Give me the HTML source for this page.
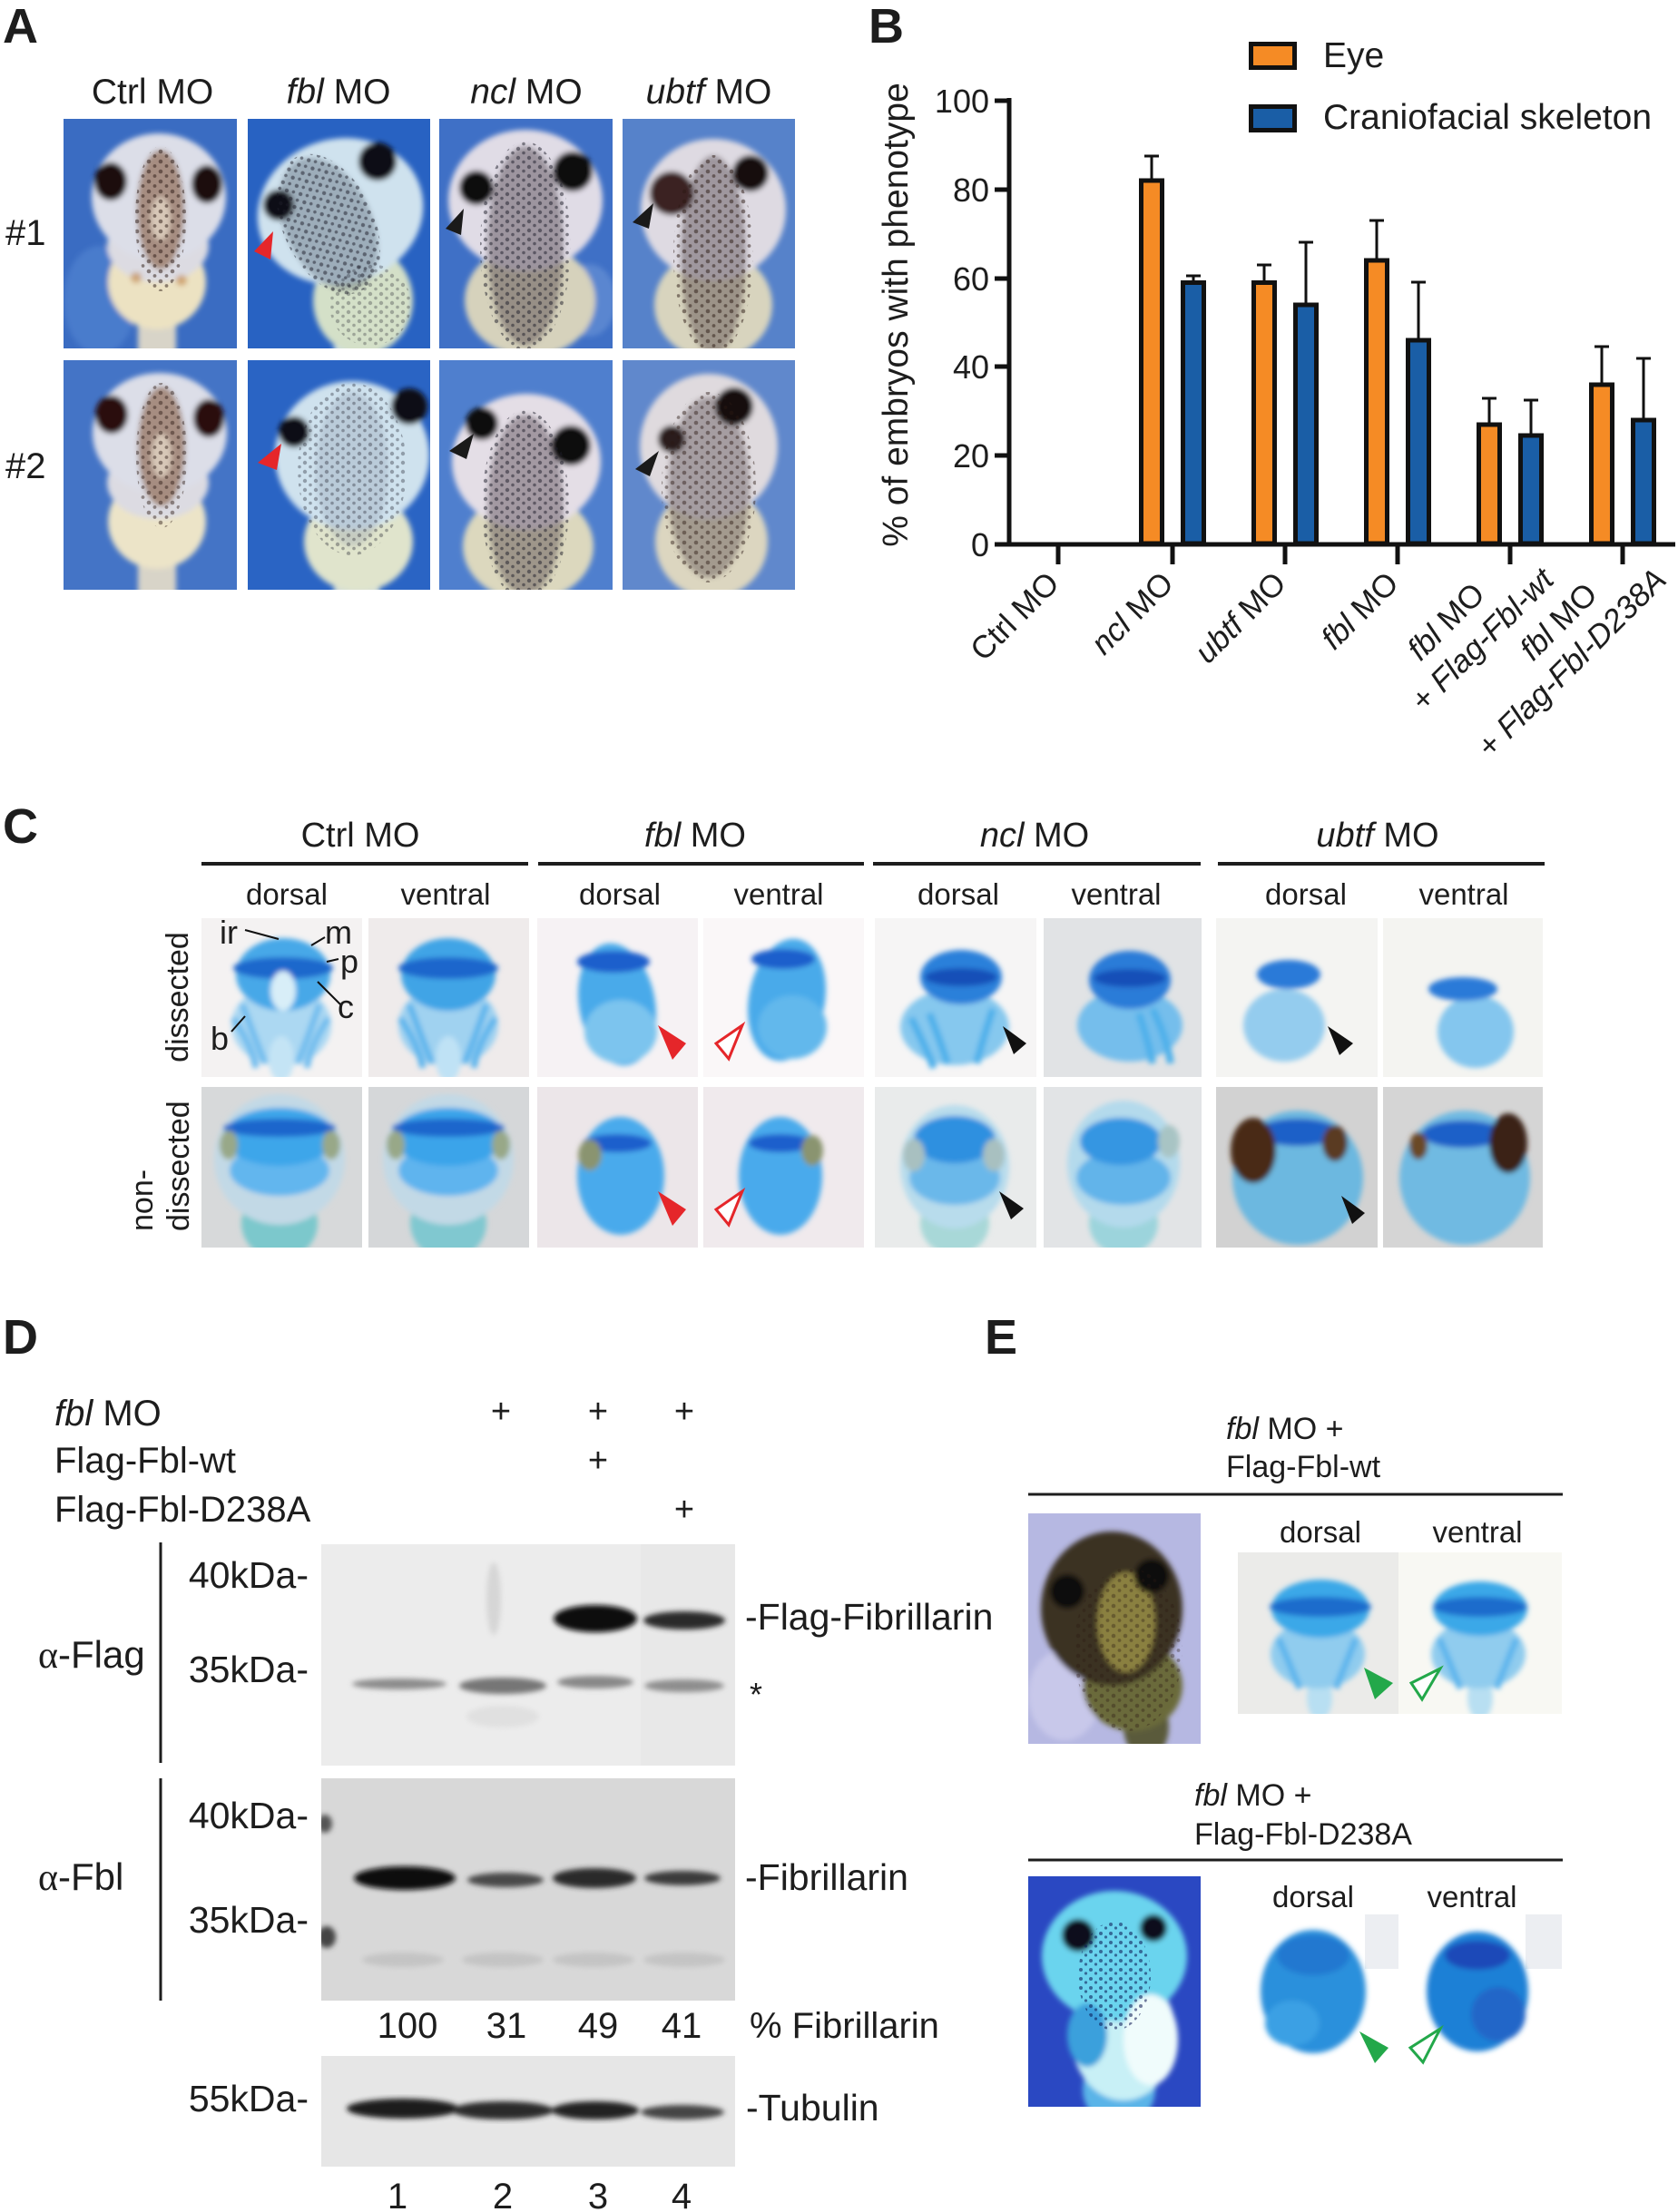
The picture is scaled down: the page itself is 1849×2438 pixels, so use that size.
<!DOCTYPE html>
<html><head><meta charset="utf-8">
<style>
html,body{margin:0;padding:0;background:#fff;}
svg{display:block;}
text{font-family:"Liberation Sans",Arial,sans-serif;fill:#1d1d1d;}
</style></head><body>
<svg width="1849" height="2438" viewBox="0 0 1849 2438" xmlns="http://www.w3.org/2000/svg">
<defs>
<filter id="b2" x="-20%" y="-20%" width="140%" height="140%"><feGaussianBlur stdDeviation="2"/></filter>
<filter id="b3" x="-20%" y="-20%" width="140%" height="140%"><feGaussianBlur stdDeviation="3"/></filter>
<filter id="b5" x="-20%" y="-20%" width="140%" height="140%"><feGaussianBlur stdDeviation="5"/></filter>
<filter id="b10" x="-30%" y="-30%" width="160%" height="160%"><feGaussianBlur stdDeviation="10"/></filter>
<pattern id="spk" width="13" height="11" patternUnits="userSpaceOnUse">
<circle cx="3" cy="3" r="2.3" fill="#2a1812"/><circle cx="9.5" cy="8" r="1.9" fill="#2a1812"/>
</pattern>
<pattern id="spkb" width="12" height="10" patternUnits="userSpaceOnUse">
<circle cx="3" cy="3" r="2.2" fill="#1c1c28"/><circle cx="9" cy="7.5" r="1.8" fill="#1c1c28"/>
</pattern>
<pattern id="spkn" width="11" height="10" patternUnits="userSpaceOnUse">
<circle cx="3" cy="3" r="2" fill="#0a1450"/><circle cx="8.5" cy="7" r="1.6" fill="#0a1450"/>
</pattern>
</defs>

<!-- ============ PANEL A ============ -->
<text x="3" y="47" font-size="54" font-weight="bold">A</text>
<text x="168" y="114" font-size="39" text-anchor="middle">Ctrl MO</text>
<text x="373" y="114" font-size="39" text-anchor="middle"><tspan font-style="italic">fbl</tspan> MO</text>
<text x="580" y="114" font-size="39" text-anchor="middle"><tspan font-style="italic">ncl</tspan> MO</text>
<text x="781" y="114" font-size="39" text-anchor="middle"><tspan font-style="italic">ubtf</tspan> MO</text>
<text x="6" y="270" font-size="40">#1</text>
<text x="6" y="527" font-size="40">#2</text>

<!-- Ctrl #1 -->
<svg x="70" y="131" width="191" height="253">
<rect width="191" height="253" fill="#3a6cc2"/>
<g filter="url(#b3)">
<ellipse cx="40" cy="200" rx="40" ry="60" fill="#4a7ccc"/>
<rect x="82" y="200" width="42" height="60" fill="#d8d4c8"/>
<ellipse cx="103" cy="180" rx="54" ry="52" fill="#ece2c2"/>
<ellipse cx="104" cy="140" rx="56" ry="40" fill="#dcdbe2"/>
<ellipse cx="105" cy="86" rx="74" ry="70" fill="#dcdee8"/>
<ellipse cx="107" cy="100" rx="26" ry="66" fill="#7a4a2c" opacity="0.55"/>
<ellipse cx="107" cy="110" rx="11" ry="24" fill="#e4d6c4" opacity="0.8"/>
<ellipse cx="80" cy="175" rx="6" ry="6" fill="#c08040" opacity="0.6"/>
<ellipse cx="130" cy="178" rx="6" ry="6" fill="#c08040" opacity="0.6"/>
<ellipse cx="52" cy="69" rx="18" ry="21" fill="#1a0c0c"/>
<ellipse cx="158" cy="72" rx="17" ry="21" fill="#1a0c0c"/>
</g>
<ellipse cx="107" cy="110" rx="28" ry="80" fill="url(#spk)" opacity="0.5"/>
</svg>
<!-- Ctrl #2 -->
<svg x="70" y="397" width="191" height="253">
<rect width="191" height="253" fill="#4474c6"/>
<g filter="url(#b3)">
<rect x="82" y="200" width="42" height="60" fill="#d8d4c8"/>
<ellipse cx="103" cy="178" rx="54" ry="52" fill="#ece4c8"/>
<ellipse cx="104" cy="135" rx="56" ry="40" fill="#dcdbe2"/>
<ellipse cx="106" cy="80" rx="74" ry="66" fill="#dcdee8"/>
<ellipse cx="108" cy="95" rx="26" ry="66" fill="#7a4a2c" opacity="0.55"/>
<ellipse cx="108" cy="105" rx="11" ry="24" fill="#e4d6c4" opacity="0.8"/>
<ellipse cx="53" cy="60" rx="18" ry="21" fill="#2a1010"/>
<ellipse cx="160" cy="64" rx="17" ry="21" fill="#2a1010"/>
</g>
<ellipse cx="108" cy="105" rx="28" ry="80" fill="url(#spk)" opacity="0.45"/>
</svg>
<!-- fbl #1 -->
<svg x="273" y="131" width="201" height="253">
<rect width="201" height="253" fill="#2862c2"/>
<g filter="url(#b3)">
<rect x="95" y="200" width="50" height="60" fill="#c8dce4"/>
<ellipse cx="127" cy="200" rx="55" ry="60" fill="#d4e0c8"/>
<ellipse cx="102" cy="102" rx="92" ry="80" fill="#cfe2ee" transform="rotate(-15 102 102)"/>
<ellipse cx="89" cy="116" rx="48" ry="78" fill="#404a5a" opacity="0.35" transform="rotate(-25 89 116)"/>
<circle cx="34" cy="95" r="17" fill="#0d0d14"/>
<circle cx="143" cy="47" r="21" fill="#0d0d14"/>
</g>
<ellipse cx="89" cy="116" rx="50" ry="82" fill="url(#spkb)" opacity="0.5" transform="rotate(-25 89 116)"/>
<ellipse cx="135" cy="205" rx="45" ry="45" fill="url(#spkb)" opacity="0.3"/>
</svg>
<!-- fbl #2 -->
<svg x="273" y="397" width="201" height="253">
<rect width="201" height="253" fill="#2a64c4"/>
<g filter="url(#b3)">
<rect x="95" y="190" width="50" height="70" fill="#d0dcd8"/>
<ellipse cx="122" cy="200" rx="60" ry="55" fill="#e0e4cc"/>
<ellipse cx="115" cy="105" rx="85" ry="82" fill="#cfe2ee"/>
<ellipse cx="115" cy="120" rx="40" ry="85" fill="#8a96a8" opacity="0.3"/>
<circle cx="51" cy="79" r="17" fill="#0d0d14"/>
<circle cx="178" cy="51" r="20" fill="#0d0d14"/>
</g>
<ellipse cx="115" cy="120" rx="60" ry="95" fill="url(#spkb)" opacity="0.35"/>
</svg>
<!-- ncl #1 -->
<svg x="484" y="131" width="191" height="253">
<rect width="191" height="253" fill="#3f70c6"/>
<g filter="url(#b3)">
<ellipse cx="165" cy="200" rx="30" ry="40" fill="#5a86d0"/>
<ellipse cx="100" cy="200" rx="72" ry="62" fill="#d6d2bc"/>
<ellipse cx="95" cy="90" rx="85" ry="78" fill="#e0dce6"/>
<ellipse cx="95" cy="140" rx="42" ry="110" fill="#3a2a35" opacity="0.4"/>
<circle cx="41" cy="76" r="19" fill="#0d0a10"/>
<circle cx="147" cy="58" r="22" fill="#0d0a10"/>
</g>
<ellipse cx="95" cy="140" rx="50" ry="115" fill="url(#spkb)" opacity="0.5"/>
</svg>
<!-- ncl #2 -->
<svg x="484" y="397" width="191" height="253">
<rect width="191" height="253" fill="#4f7fce"/>
<g filter="url(#b3)">
<ellipse cx="98" cy="205" rx="72" ry="60" fill="#dcd8be"/>
<ellipse cx="96" cy="112" rx="82" ry="75" fill="#e4dee6"/>
<ellipse cx="95" cy="160" rx="42" ry="100" fill="#3a2a35" opacity="0.38"/>
<circle cx="47" cy="70" r="18" fill="#0d0a10"/>
<circle cx="145" cy="94" r="22" fill="#0d0a10"/>
</g>
<ellipse cx="95" cy="160" rx="48" ry="105" fill="url(#spkb)" opacity="0.5"/>
</svg>
<!-- ubtf #1 -->
<svg x="686" y="131" width="190" height="253">
<rect width="190" height="253" fill="#5682ca"/>
<g filter="url(#b3)">
<ellipse cx="100" cy="205" rx="65" ry="60" fill="#d8d4be"/>
<ellipse cx="100" cy="100" rx="80" ry="78" fill="#dedae2"/>
<ellipse cx="100" cy="150" rx="36" ry="110" fill="#3a2a30" opacity="0.38"/>
<circle cx="54" cy="82" r="24" fill="#3a2222"/>
<circle cx="141" cy="60" r="20" fill="#120c10"/>
</g>
<ellipse cx="100" cy="150" rx="44" ry="110" fill="url(#spk)" opacity="0.5"/>
</svg>
<!-- ubtf #2 -->
<svg x="686" y="397" width="190" height="253">
<rect width="190" height="253" fill="#6088cc"/>
<g filter="url(#b3)">
<ellipse cx="98" cy="200" rx="62" ry="62" fill="#dcd6c0"/>
<ellipse cx="95" cy="95" rx="76" ry="80" fill="#dfdade"/>
<ellipse cx="95" cy="140" rx="45" ry="100" fill="#3a2a30" opacity="0.35"/>
<circle cx="54" cy="87" r="15" fill="#2a1a1a"/>
<circle cx="123" cy="51" r="21" fill="#120c10"/>
</g>
<ellipse cx="95" cy="140" rx="52" ry="105" fill="url(#spk)" opacity="0.45"/>
</svg>
<!-- arrows A -->
<polygon points="301,255 280,277 298,286" fill="#e5262a"/>
<polygon points="310,489 284,510 305,518" fill="#e5262a"/>
<polygon points="511,230 491,252 508,259" fill="#1a1a1a"/>
<polygon points="522,478 495,497 514,506" fill="#1a1a1a"/>
<polygon points="720,224 697,245 715,252" fill="#1a1a1a"/>
<polygon points="726,497 700,517 716,525" fill="#1a1a1a"/>

<!-- ============ PANEL B ============ -->
<text x="957" y="47" font-size="54" font-weight="bold">B</text>
<rect x="1378.5" y="48.5" width="48" height="26" fill="#f58b25" stroke="#111" stroke-width="5"/>
<rect x="1378.5" y="117.5" width="48" height="26" fill="#1a5ea6" stroke="#111" stroke-width="5"/>
<text x="1458" y="74" font-size="39">Eye</text>
<text x="1458" y="142" font-size="39">Craniofacial skeleton</text>

<text transform="translate(1000,347) rotate(-90)" font-size="39" text-anchor="middle">% of embryos with phenotype</text>
<g font-size="36" text-anchor="end">
<text x="1090" y="124">100</text>
<text x="1090" y="222">80</text>
<text x="1090" y="320">60</text>
<text x="1090" y="417">40</text>
<text x="1090" y="515">20</text>
<text x="1090" y="613">0</text>
</g>
<g stroke="#111" stroke-width="5">
<line x1="1112" y1="108" x2="1112" y2="602"/>
<line x1="1096" y1="111" x2="1112" y2="111"/>
<line x1="1096" y1="209" x2="1112" y2="209"/>
<line x1="1096" y1="307" x2="1112" y2="307"/>
<line x1="1096" y1="404" x2="1112" y2="404"/>
<line x1="1096" y1="502" x2="1112" y2="502"/>
<line x1="1096" y1="600" x2="1846" y2="600"/>
<line x1="1166" y1="600" x2="1166" y2="622"/>
<line x1="1292" y1="600" x2="1292" y2="622"/>
<line x1="1416" y1="600" x2="1416" y2="622"/>
<line x1="1540" y1="600" x2="1540" y2="622"/>
<line x1="1664" y1="600" x2="1664" y2="622"/>
<line x1="1788" y1="600" x2="1788" y2="622"/>
</g>
<!-- error bars -->
<g stroke="#111" stroke-width="3">
<line x1="1269" y1="199" x2="1269" y2="172"/><line x1="1261" y1="172" x2="1277" y2="172"/>
<line x1="1315" y1="311" x2="1315" y2="304"/><line x1="1307" y1="304" x2="1323" y2="304"/>
<line x1="1393" y1="311" x2="1393" y2="292"/><line x1="1385" y1="292" x2="1401" y2="292"/>
<line x1="1439" y1="336" x2="1439" y2="267"/><line x1="1431" y1="267" x2="1447" y2="267"/>
<line x1="1517" y1="287" x2="1517" y2="243"/><line x1="1509" y1="243" x2="1525" y2="243"/>
<line x1="1563" y1="375" x2="1563" y2="311"/><line x1="1555" y1="311" x2="1571" y2="311"/>
<line x1="1641" y1="468" x2="1641" y2="439"/><line x1="1633" y1="439" x2="1649" y2="439"/>
<line x1="1687" y1="480" x2="1687" y2="441"/><line x1="1679" y1="441" x2="1695" y2="441"/>
<line x1="1765" y1="424" x2="1765" y2="382"/><line x1="1757" y1="382" x2="1773" y2="382"/>
<line x1="1811" y1="463" x2="1811" y2="395"/><line x1="1803" y1="395" x2="1819" y2="395"/>
</g>
<!-- bars -->
<g stroke="#111" stroke-width="5">
<rect x="1257.5" y="199" width="23" height="400" fill="#f58b25"/>
<rect x="1303.5" y="311.5" width="23" height="287.5" fill="#1a5ea6"/>
<rect x="1381.5" y="311.5" width="23" height="287.5" fill="#f58b25"/>
<rect x="1427.5" y="336" width="23" height="263" fill="#1a5ea6"/>
<rect x="1505.5" y="287" width="23" height="312" fill="#f58b25"/>
<rect x="1551.5" y="375" width="23" height="224" fill="#1a5ea6"/>
<rect x="1629.5" y="468" width="23" height="131" fill="#f58b25"/>
<rect x="1675.5" y="480" width="23" height="119" fill="#1a5ea6"/>
<rect x="1753.5" y="424" width="23" height="175" fill="#f58b25"/>
<rect x="1799.5" y="463" width="23" height="136" fill="#1a5ea6"/>
</g>
<line x1="1096" y1="600" x2="1846" y2="600" stroke="#111" stroke-width="5"/>
<!-- x labels -->
<g font-size="35" text-anchor="end">
<text transform="translate(1169,645) rotate(-45)">Ctrl MO</text>
<text transform="translate(1295,645) rotate(-45)"><tspan font-style="italic">ncl</tspan> MO</text>
<text transform="translate(1419,645) rotate(-45)"><tspan font-style="italic">ubtf</tspan> MO</text>
<text transform="translate(1543,645) rotate(-45)"><tspan font-style="italic">fbl</tspan> MO</text>
<text transform="translate(1638,657) rotate(-45)"><tspan font-style="italic">fbl</tspan> MO</text>
<text transform="translate(1714,641) rotate(-45)" font-style="italic">+ Flag-Fbl-wt</text>
<text transform="translate(1762,657) rotate(-45)"><tspan font-style="italic">fbl</tspan> MO</text>
<text transform="translate(1838,641) rotate(-45)" font-style="italic">+ Flag-Fbl-D238A</text>
</g>

<!-- ============ PANEL C ============ -->
<text x="3" y="929" font-size="54" font-weight="bold">C</text>
<g font-size="38" text-anchor="middle">
<text x="397" y="933">Ctrl MO</text>
<text x="766" y="933"><tspan font-style="italic">fbl</tspan> MO</text>
<text x="1140" y="933"><tspan font-style="italic">ncl</tspan> MO</text>
<text x="1518" y="933"><tspan font-style="italic">ubtf</tspan> MO</text>
</g>
<g stroke="#1d1d1d" stroke-width="4">
<line x1="222" y1="952" x2="582" y2="952"/>
<line x1="593" y1="952" x2="952" y2="952"/>
<line x1="962" y1="952" x2="1323" y2="952"/>
<line x1="1342" y1="952" x2="1702" y2="952"/>
</g>
<g font-size="33" text-anchor="middle">
<text x="316" y="997">dorsal</text><text x="491" y="997">ventral</text>
<text x="683" y="997">dorsal</text><text x="858" y="997">ventral</text>
<text x="1056" y="997">dorsal</text><text x="1230" y="997">ventral</text>
<text x="1439" y="997">dorsal</text><text x="1613" y="997">ventral</text>
</g>
<text transform="translate(207,1099) rotate(-90)" font-size="34" text-anchor="middle">dissected</text>
<text transform="translate(168,1357) rotate(-90)" font-size="34">non-</text>
<text transform="translate(208,1357) rotate(-90)" font-size="34">dissected</text>

<!-- Row 1 tiles -->
<svg x="222" y="1012" width="177" height="175">
<rect width="177" height="175" fill="#f4f2f2"/>
<g filter="url(#b3)">
<ellipse cx="88" cy="118" rx="55" ry="45" fill="#acd8f2"/>
<ellipse cx="88" cy="155" rx="14" ry="25" fill="#c4e4f5"/>
<path d="M45,95 Q58,130 70,160 M130,95 Q118,130 106,160 M35,110 Q55,140 60,165 M140,110 Q120,140 116,165" stroke="#6ebcee" stroke-width="7" fill="none"/>
<ellipse cx="90" cy="62" rx="52" ry="40" fill="#46a8e8"/>
<ellipse cx="90" cy="55" rx="55" ry="12" fill="#1a68cc"/>
<ellipse cx="90" cy="80" rx="14" ry="22" fill="#d8eef8"/>
</g></svg>
<svg x="406" y="1012" width="177" height="175">
<rect width="177" height="175" fill="#efebeb"/>
<g filter="url(#b3)">
<ellipse cx="88" cy="118" rx="55" ry="45" fill="#a0d2f0"/>
<ellipse cx="88" cy="155" rx="14" ry="25" fill="#bfe2f5"/>
<path d="M45,95 Q58,130 70,160 M130,95 Q118,130 106,160 M35,110 Q55,140 60,165 M140,110 Q120,140 116,165" stroke="#5ab4ec" stroke-width="7" fill="none"/>
<ellipse cx="88" cy="62" rx="52" ry="40" fill="#40a4e6"/>
<ellipse cx="88" cy="55" rx="55" ry="12" fill="#1a66cc"/>
</g></svg>
<svg x="592" y="1012" width="177" height="175">
<rect width="177" height="175" fill="#f6f2f4"/>
<g filter="url(#b3)">
<ellipse cx="88" cy="95" rx="42" ry="68" fill="#4aaaea" transform="rotate(-10 88 95)"/>
<ellipse cx="92" cy="125" rx="40" ry="35" fill="#7cc4ee"/>
<ellipse cx="84" cy="48" rx="40" ry="12" fill="#1a5ecc"/>
</g></svg>
<svg x="775" y="1012" width="177" height="175">
<rect width="177" height="175" fill="#faf7f8"/>
<g filter="url(#b3)">
<ellipse cx="92" cy="90" rx="42" ry="68" fill="#4aaaea" transform="rotate(10 92 90)"/>
<ellipse cx="98" cy="120" rx="38" ry="35" fill="#62b8ec"/>
<ellipse cx="88" cy="45" rx="35" ry="11" fill="#1a5ecc"/>
</g></svg>
<svg x="964" y="1012" width="178" height="175">
<rect width="178" height="175" fill="#f6f5f5"/>
<g filter="url(#b3)">
<ellipse cx="88" cy="120" rx="60" ry="42" fill="#86c8ee"/>
<path d="M40,110 Q55,140 65,165 M60,105 Q72,135 80,160 M130,100 Q120,130 112,160" stroke="#4eb0ea" stroke-width="8" fill="none"/>
<ellipse cx="95" cy="65" rx="45" ry="30" fill="#2a80da"/>
<ellipse cx="95" cy="65" rx="40" ry="10" fill="#1450b8"/>
</g></svg>
<svg x="1150" y="1012" width="174" height="175">
<rect width="174" height="175" fill="#e1e3e5"/>
<g filter="url(#b3)">
<ellipse cx="95" cy="118" rx="58" ry="40" fill="#74beec"/>
<path d="M120,100 Q135,130 140,160 M105,105 Q115,135 120,160" stroke="#4eb0ea" stroke-width="8" fill="none"/>
<ellipse cx="95" cy="68" rx="45" ry="32" fill="#2a7cd8"/>
<ellipse cx="95" cy="66" rx="40" ry="10" fill="#1450b8"/>
</g></svg>
<svg x="1340" y="1012" width="178" height="175">
<rect width="178" height="175" fill="#f4f4f2"/>
<g filter="url(#b3)">
<ellipse cx="75" cy="118" rx="45" ry="40" fill="#94ccee"/>
<ellipse cx="80" cy="62" rx="35" ry="16" fill="#2a7ad8"/>
</g></svg>
<svg x="1524" y="1012" width="176" height="175">
<rect width="176" height="175" fill="#f4f4f1"/>
<g filter="url(#b3)">
<ellipse cx="102" cy="125" rx="42" ry="40" fill="#84c6ee"/>
<ellipse cx="88" cy="78" rx="38" ry="13" fill="#2a7ad8"/>
</g></svg>

<!-- Row 2 tiles -->
<svg x="222" y="1198" width="177" height="177">
<rect width="177" height="177" fill="#d7d9da"/>
<g filter="url(#b3)">
<ellipse cx="86" cy="150" rx="42" ry="40" fill="#7cc8cc"/>
<ellipse cx="86" cy="80" rx="72" ry="72" fill="#c2d9e6"/>
<ellipse cx="86" cy="92" rx="55" ry="28" fill="#62b6ee"/>
<ellipse cx="86" cy="55" rx="62" ry="32" fill="#3ca6ea"/>
<ellipse cx="86" cy="45" rx="62" ry="10" fill="#1a66cc"/>
<ellipse cx="30" cy="64" rx="10" ry="16" fill="#98a888"/>
<ellipse cx="143" cy="64" rx="10" ry="16" fill="#98a888"/>
</g></svg>
<svg x="406" y="1198" width="177" height="177">
<rect width="177" height="177" fill="#d5d7d9"/>
<g filter="url(#b3)">
<ellipse cx="88" cy="150" rx="42" ry="40" fill="#80c8d0"/>
<ellipse cx="88" cy="80" rx="72" ry="72" fill="#c2d9e6"/>
<ellipse cx="88" cy="92" rx="55" ry="28" fill="#5eb4ee"/>
<ellipse cx="88" cy="55" rx="62" ry="32" fill="#3aa4ea"/>
<ellipse cx="88" cy="45" rx="62" ry="10" fill="#1a66cc"/>
<ellipse cx="30" cy="64" rx="10" ry="16" fill="#98a888"/>
<ellipse cx="146" cy="64" rx="10" ry="16" fill="#98a888"/>
</g></svg>
<svg x="592" y="1198" width="177" height="177">
<rect width="177" height="177" fill="#ece6e9"/>
<g filter="url(#b3)">
<ellipse cx="92" cy="98" rx="48" ry="65" fill="#48aaec"/>
<ellipse cx="88" cy="62" rx="38" ry="10" fill="#1a5ecc"/>
<ellipse cx="58" cy="75" rx="13" ry="17" fill="#8a9470"/>
</g></svg>
<svg x="775" y="1198" width="177" height="177">
<rect width="177" height="177" fill="#f0eaed"/>
<g filter="url(#b3)">
<ellipse cx="85" cy="98" rx="46" ry="65" fill="#48aaec"/>
<ellipse cx="85" cy="62" rx="35" ry="10" fill="#1a5ecc"/>
<ellipse cx="120" cy="70" rx="12" ry="17" fill="#8a9470"/>
</g></svg>
<svg x="964" y="1198" width="178" height="177">
<rect width="178" height="177" fill="#e9ebeb"/>
<g filter="url(#b3)">
<ellipse cx="88" cy="150" rx="38" ry="35" fill="#a8d8d8"/>
<ellipse cx="88" cy="88" rx="60" ry="68" fill="#b8dcec"/>
<ellipse cx="88" cy="100" rx="50" ry="30" fill="#6ab8ea"/>
<ellipse cx="88" cy="58" rx="45" ry="26" fill="#2e90e0"/>
<ellipse cx="43" cy="75" rx="12" ry="18" fill="#a8c0c0"/>
<ellipse cx="131" cy="75" rx="12" ry="18" fill="#a8c0c0"/>
</g></svg>
<svg x="1150" y="1198" width="174" height="177">
<rect width="174" height="177" fill="#e2e4e6"/>
<g filter="url(#b3)">
<ellipse cx="88" cy="150" rx="38" ry="35" fill="#9cd4dc"/>
<ellipse cx="88" cy="85" rx="62" ry="70" fill="#b4daec"/>
<ellipse cx="88" cy="100" rx="52" ry="30" fill="#62b4ea"/>
<ellipse cx="85" cy="60" rx="45" ry="26" fill="#3696e2"/>
<ellipse cx="138" cy="60" rx="12" ry="18" fill="#a8c4c4"/>
</g></svg>
<svg x="1340" y="1198" width="178" height="177">
<rect width="178" height="177" fill="#d2d2d2"/>
<g filter="url(#b3)">
<ellipse cx="90" cy="100" rx="72" ry="74" fill="#6cb8e0"/>
<ellipse cx="90" cy="50" rx="45" ry="15" fill="#1a60c8"/>
<ellipse cx="41" cy="70" rx="25" ry="36" fill="#4a2a18"/>
<ellipse cx="131" cy="62" rx="14" ry="20" fill="#5a3a20"/>
</g></svg>
<svg x="1524" y="1198" width="176" height="177">
<rect width="176" height="177" fill="#d5d5d5"/>
<g filter="url(#b3)">
<ellipse cx="90" cy="100" rx="72" ry="74" fill="#70bae2"/>
<ellipse cx="88" cy="52" rx="45" ry="15" fill="#1a60c8"/>
<ellipse cx="138" cy="62" rx="21" ry="33" fill="#3a2418"/>
<ellipse cx="39" cy="65" rx="10" ry="15" fill="#6a4a28"/>
</g></svg>

<!-- annotations -->
<g font-size="36">
<text x="242" y="1040">ir</text>
<text x="358" y="1040">m</text>
<text x="375" y="1072">p</text>
<text x="372" y="1122">c</text>
<text x="232" y="1157">b</text>
</g>
<g stroke="#111" stroke-width="2">
<line x1="270" y1="1025" x2="307" y2="1035"/>
<line x1="343" y1="1042" x2="358" y2="1033"/>
<line x1="360" y1="1060" x2="373" y2="1057"/>
<line x1="350" y1="1082" x2="375" y2="1107"/>
<line x1="255" y1="1137" x2="270" y2="1120"/>
</g>
<!-- arrows C -->
<polygon points="725,1130 756,1150 741,1168" fill="#e5262a"/>
<polygon points="818,1130 789,1150 803,1167" fill="#fff" stroke="#e5262a" stroke-width="3"/>
<polygon points="725,1313 756,1333 741,1351" fill="#e5262a"/>
<polygon points="818,1313 789,1333 803,1350" fill="#fff" stroke="#e5262a" stroke-width="3"/>
<polygon points="1105,1131 1131,1150 1117,1162" fill="#111"/>
<polygon points="1101,1313 1128,1332 1114,1344" fill="#111"/>
<polygon points="1463,1131 1491,1150 1476,1163" fill="#111"/>
<polygon points="1478,1318 1504,1337 1490,1349" fill="#111"/>

<!-- ============ PANEL D ============ -->
<text x="3" y="1492" font-size="54" font-weight="bold">D</text>
<g font-size="40">
<text x="60" y="1571"><tspan font-style="italic">fbl</tspan> MO</text>
<text x="60" y="1623">Flag-Fbl-wt</text>
<text x="60" y="1677">Flag-Fbl-D238A</text>
</g>
<g font-size="38" text-anchor="middle">
<text x="552" y="1568">+</text><text x="659" y="1568">+</text><text x="754" y="1568">+</text>
<text x="659" y="1622">+</text>
<text x="754" y="1676">+</text>
</g>
<text x="42" y="1838" font-size="42"><tspan font-family="Liberation Serif, serif">α</tspan>-Flag</text>
<text x="42" y="2083" font-size="42"><tspan font-family="Liberation Serif, serif">α</tspan>-Fbl</text>
<g stroke="#1d1d1d" stroke-width="3">
<line x1="177" y1="1700" x2="177" y2="1943"/>
<line x1="177" y1="1960" x2="177" y2="2205"/>
</g>
<g font-size="41" text-anchor="end">
<text x="340" y="1750">40kDa-</text>
<text x="340" y="1854">35kDa-</text>
<text x="340" y="2015">40kDa-</text>
<text x="340" y="2130">35kDa-</text>
<text x="340" y="2327">55kDa-</text>
</g>
<!-- blot 1 -->
<svg x="354" y="1702" width="456" height="244">
<rect width="456" height="244" fill="#ececec"/>
<rect x="352" width="104" height="244" fill="#e8e8e8"/>
<g filter="url(#b3)">
<ellipse cx="190" cy="60" rx="8" ry="40" fill="#d6d6d6"/>
<ellipse cx="302" cy="82" rx="46" ry="15" fill="#0d0d0d"/>
<ellipse cx="400" cy="84" rx="45" ry="10" fill="#2a2a2a"/>
<ellipse cx="86" cy="154" rx="52" ry="6" fill="#8c8c8c"/>
<ellipse cx="200" cy="156" rx="48" ry="9" fill="#767676"/>
<ellipse cx="302" cy="152" rx="42" ry="7" fill="#888"/>
<ellipse cx="400" cy="156" rx="44" ry="7" fill="#8e8e8e"/>
<ellipse cx="200" cy="190" rx="40" ry="12" fill="#e0e0e0"/>
</g></svg>
<text x="821" y="1796" font-size="41">-Flag-Fibrillarin</text>
<text x="826" y="1880" font-size="36">*</text>
<!-- blot 2 -->
<svg x="354" y="1960" width="456" height="245">
<rect width="456" height="245" fill="#d8d8d8"/>
<g filter="url(#b3)">
<ellipse cx="92" cy="110" rx="56" ry="13" fill="#0a0a0a"/>
<ellipse cx="203" cy="112" rx="42" ry="8" fill="#4a4a4a"/>
<ellipse cx="301" cy="110" rx="46" ry="11" fill="#2a2a2a"/>
<ellipse cx="398" cy="110" rx="42" ry="8" fill="#3a3a3a"/>
<ellipse cx="90" cy="200" rx="45" ry="8" fill="#c4c4c4"/>
<ellipse cx="200" cy="200" rx="45" ry="8" fill="#c4c4c4"/>
<ellipse cx="300" cy="200" rx="45" ry="8" fill="#c4c4c4"/>
<ellipse cx="400" cy="200" rx="45" ry="8" fill="#c4c4c4"/>
<ellipse cx="4" cy="50" rx="8" ry="10" fill="#555"/>
<ellipse cx="6" cy="175" rx="10" ry="12" fill="#444"/>
</g></svg>
<text x="821" y="2083" font-size="41">-Fibrillarin</text>
<g font-size="40" text-anchor="middle">
<text x="449" y="2246">100</text><text x="558" y="2246">31</text>
<text x="659" y="2246">49</text><text x="751" y="2246">41</text>
</g>
<text x="826" y="2246" font-size="40">% Fibrillarin</text>
<!-- tubulin -->
<svg x="354" y="2266" width="456" height="122">
<rect width="456" height="122" fill="#e6e6e6"/>
<g filter="url(#b3)">
<ellipse cx="90" cy="58" rx="62" ry="11" fill="#1a1a1a"/>
<ellipse cx="200" cy="60" rx="56" ry="10" fill="#2a2a2a"/>
<ellipse cx="302" cy="60" rx="48" ry="10" fill="#222"/>
<ellipse cx="398" cy="62" rx="46" ry="8" fill="#444"/>
</g></svg>
<text x="822" y="2337" font-size="41">-Tubulin</text>
<g font-size="40" text-anchor="middle">
<text x="438" y="2434">1</text><text x="554" y="2434">2</text>
<text x="659" y="2434">3</text><text x="751" y="2434">4</text>
</g>

<!-- ============ PANEL E ============ -->
<text x="1085" y="1492" font-size="54" font-weight="bold">E</text>
<g font-size="34">
<text x="1351" y="1586"><tspan font-style="italic">fbl</tspan> MO +</text>
<text x="1351" y="1628">Flag-Fbl-wt</text>
<text x="1316" y="1990"><tspan font-style="italic">fbl</tspan> MO +</text>
<text x="1316" y="2033">Flag-Fbl-D238A</text>
</g>
<g stroke="#1d1d1d" stroke-width="3">
<line x1="1133" y1="1647" x2="1722" y2="1647"/>
<line x1="1133" y1="2050" x2="1722" y2="2050"/>
</g>
<g font-size="33" text-anchor="middle">
<text x="1455" y="1700">dorsal</text><text x="1628" y="1700">ventral</text>
<text x="1447" y="2102">dorsal</text><text x="1622" y="2102">ventral</text>
</g>
<!-- photo E1 -->
<svg x="1133" y="1668" width="190" height="254">
<rect width="190" height="254" fill="#b6b8e2"/>
<g filter="url(#b3)">
<ellipse cx="40" cy="200" rx="40" ry="50" fill="#c8c8ea"/>
<ellipse cx="130" cy="235" rx="25" ry="35" fill="#5a5a3a"/>
<ellipse cx="115" cy="190" rx="55" ry="50" fill="#6a6a3a"/>
<ellipse cx="92" cy="105" rx="78" ry="85" fill="#3a3022"/>
<ellipse cx="108" cy="120" rx="32" ry="55" fill="#8a8040"/>
<circle cx="43" cy="86" r="19" fill="#0d0a0a"/>
<circle cx="136" cy="69" r="19" fill="#0d0a0a"/>
</g>
<ellipse cx="110" cy="150" rx="60" ry="90" fill="url(#spk)" opacity="0.35"/>
</svg>
<!-- photo E2 -->
<svg x="1133" y="2068" width="190" height="254">
<rect width="190" height="254" fill="#2a48c2"/>
<g filter="url(#b3)">
<ellipse cx="100" cy="235" rx="40" ry="40" fill="#5ab4e8"/>
<ellipse cx="105" cy="175" rx="58" ry="72" fill="#c8f0f6"/>
<ellipse cx="95" cy="88" rx="80" ry="72" fill="#6ad4ee"/>
<ellipse cx="135" cy="180" rx="30" ry="50" fill="#f0fcfc"/>
<ellipse cx="65" cy="175" rx="22" ry="35" fill="#3aa0dc"/>
<circle cx="55" cy="65" r="18" fill="#0c0c1c"/>
<circle cx="138" cy="57" r="15" fill="#0c0c1c"/>
</g>
<ellipse cx="95" cy="110" rx="40" ry="60" fill="url(#spkn)" opacity="0.55"/>
</svg>
<!-- E tiles wt -->
<svg x="1364" y="1711" width="177" height="178">
<rect width="177" height="178" fill="#ebebe9"/>
<g filter="url(#b3)">
<ellipse cx="90" cy="160" rx="14" ry="25" fill="#b8dff2"/>
<ellipse cx="88" cy="112" rx="52" ry="38" fill="#90ccee"/>
<path d="M45,95 Q58,125 68,150 M130,95 Q118,125 108,150" stroke="#5ab4ec" stroke-width="7" fill="none"/>
<ellipse cx="91" cy="62" rx="54" ry="32" fill="#3aa8e8"/>
<ellipse cx="91" cy="60" rx="56" ry="11" fill="#1a6ccc"/>
</g></svg>
<svg x="1541" y="1711" width="180" height="178">
<rect width="180" height="178" fill="#f8f8f3"/>
<g filter="url(#b3)">
<ellipse cx="90" cy="160" rx="14" ry="25" fill="#b8dff2"/>
<ellipse cx="88" cy="112" rx="52" ry="38" fill="#90ccee"/>
<path d="M45,95 Q58,125 68,150 M130,95 Q118,125 108,150" stroke="#5ab4ec" stroke-width="7" fill="none"/>
<ellipse cx="90" cy="62" rx="52" ry="30" fill="#3aa8e8"/>
<ellipse cx="90" cy="60" rx="52" ry="11" fill="#1a6ccc"/>
</g></svg>
<!-- E tiles D238A -->
<svg x="1364" y="2110" width="177" height="180">
<rect width="177" height="180" fill="#ffffff"/>
<rect x="140" width="37" height="60" fill="#eceef2"/>
<g filter="url(#b3)">
<ellipse cx="83" cy="85" rx="58" ry="68" fill="#2a90dc"/>
<ellipse cx="60" cy="120" rx="30" ry="25" fill="#3aa0e4"/>
<ellipse cx="83" cy="45" rx="40" ry="22" fill="#2278d0"/>
</g></svg>
<svg x="1541" y="2110" width="180" height="180">
<rect width="180" height="180" fill="#ffffff"/>
<rect x="140" width="40" height="60" fill="#eceef2"/>
<g filter="url(#b3)">
<ellipse cx="87" cy="85" rx="56" ry="66" fill="#1e80d6"/>
<ellipse cx="87" cy="45" rx="36" ry="16" fill="#1a4ab8"/>
<ellipse cx="110" cy="110" rx="30" ry="30" fill="#2066c8"/>
</g></svg>
<!-- green arrows -->
<polygon points="1503,1838 1535,1855 1515,1873" fill="#23a84a"/>
<polygon points="1587,1839 1555,1855 1567,1873" fill="#fff" stroke="#23a84a" stroke-width="3"/>
<polygon points="1498,2239 1530,2257 1515,2274" fill="#23a84a"/>
<polygon points="1587,2236 1554,2257 1568,2273" fill="#fff" stroke="#23a84a" stroke-width="3"/>
</svg>
</body></html>
